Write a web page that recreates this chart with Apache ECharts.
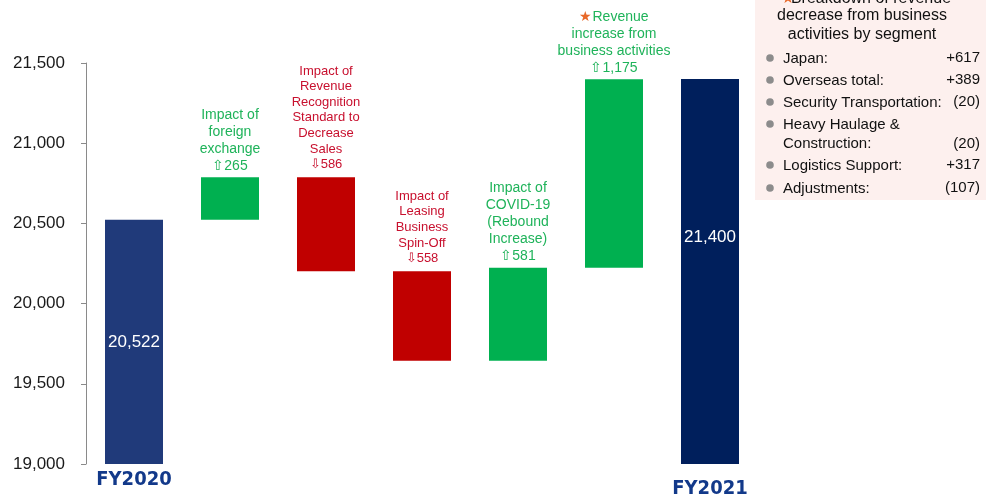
<!DOCTYPE html>
<html>
<head>
<meta charset="utf-8">
<script src="https://cdn.jsdelivr.net/npm/echarts@6/dist/echarts.min.js"></script>
<style>
  html, body { margin: 0; padding: 0; background: #fff; }
  #chart { width: 986px; height: 500px; }
</style>
</head>
<body>
<div id="chart"></div>
<script>
// 数据
var categories = ['FY2020', 'FX', 'RevRec', 'Leasing', 'COVID', 'Business', 'FY2021'];
var startValue = 20522;
var deltas = [265, -586, -558, 581, 1175];
var endValue = 21400;
var yTicks = [19000, 19500, 20000, 20500, 21000, 21500];

var impactLabels = [
  ['Impact of', 'foreign', 'exchange', '⇧265'],
  ['Impact of', 'Revenue', 'Recognition', 'Standard to', 'Decrease', 'Sales', '⇩586'],
  ['Impact of', 'Leasing', 'Business', 'Spin-Off', '⇩558'],
  ['Impact of', 'COVID-19', '(Rebound', 'Increase)', '⇧581'],
  ['{s|★}Revenue', 'increase from', 'business activities', '⇧1,175']
];

var boxTitle = ['Breakdown of revenue', 'decrease from business', 'activities by segment'];
var segNames = ['Japan:', 'Overseas total:', 'Security Transportation:', 'Heavy Haulage &\nConstruction:', 'Logistics Support:', 'Adjustments:'];
var segValues = ['+617', '+389', '(20)', '(20)', '+317', '(107)'];

var GREEN = '#00b050', RED = '#c00000';
var GREEN_TXT = '#1fb35a', RED_TXT = '#c8102e';

// 瀑布图: 透明底座 + 可见柱
var baseData = [0];
var barData = [{
  value: startValue,
  itemStyle: { color: '#203a7a' },
  label: { show: true, position: 'inside', color: '#fff', fontSize: 17 }
}];
var running = startValue;
deltas.forEach(function (d, i) {
  var next = running + d;
  var up = d > 0;
  baseData.push(Math.min(running, next));
  barData.push({
    value: Math.abs(d),
    itemStyle: { color: up ? GREEN : RED },
    label: {
      show: true,
      position: 'top',
      distance: up ? 3 : 5,
      color: up ? GREEN_TXT : RED_TXT,
      fontSize: up ? 14 : 13,
      lineHeight: up ? 17 : 15.6,
      formatter: impactLabels[i].join('\n'),
      rich: { s: { color: '#e8692a', fontSize: 14, lineHeight: 17 } }
    }
  });
  running = next;
});
baseData.push(0);
barData.push({
  value: endValue,
  itemStyle: { color: '#001f5c' },
  label: { show: true, position: 'insideTop', distance: 150, color: '#fff', fontSize: 17 }
});

function fmt(v) {
  return String(v).replace(/\B(?=(\d{3})+(?!\d))/g, ',');
}

// 右上角分类说明
var FONT16 = '16px "Liberation Sans", Arial, sans-serif';
var FONT15 = '15px "Liberation Sans", Arial, sans-serif';
var boxChildren = [{
  type: 'rect',
  shape: { x: 755, y: -20, width: 240, height: 220 },
  style: { fill: '#fdf0ee' }
}, {
  type: 'text',
  style: { text: '★', x: 788, y: -1, fill: '#e8692a', font: '15px "DejaVu Sans", sans-serif', align: 'center', verticalAlign: 'middle' }
}];
boxTitle.forEach(function (t, i) {
  boxChildren.push({
    type: 'text',
    style: {
      text: t,
      x: i === 0 ? 871 : 862, y: (i === 0 ? -1 : -4) + i * 19.5,
      fill: '#111', font: FONT16,
      align: 'center', verticalAlign: 'middle'
    }
  });
});
var rowY = [58, 80, 102, 124, 165, 188];
segNames.forEach(function (n, i) {
  var y = rowY[i];
  var twoLine = n.indexOf('\n') >= 0;
  boxChildren.push({
    type: 'circle',
    shape: { cx: 770, cy: y, r: 3.8 },
    style: { fill: '#8c8c8c' }
  });
  boxChildren.push({
    type: 'text',
    style: {
      text: n, x: 783, y: y - 9, lineHeight: 19.5,
      fill: '#111', font: FONT15,
      align: 'left', verticalAlign: 'top'
    }
  });
  boxChildren.push({
    type: 'text',
    style: {
      text: segValues[i], x: 980, y: twoLine ? y + 19.5 : y,
      fill: '#111', font: FONT15,
      align: 'right', verticalAlign: 'middle'
    }
  });
});

var fyFont = '"Liberation Sans Narrow", "DejaVu Sans Condensed", sans-serif';
var chart = echarts.init(document.getElementById('chart'));
var option = {
  animation: false,
  textStyle: { fontFamily: '"Liberation Sans", Arial, sans-serif' },
  grid: { left: 86, right: 228, top: 63, bottom: 36, containLabel: false, outerBoundsMode: 'none' },
  xAxis: {
    type: 'category',
    data: categories,
    axisLine: { show: false },
    axisTick: { show: false },
    axisLabel: {
      interval: 0,
      margin: 4,
      formatter: function (v) {
        if (v === 'FY2020') return '{a|FY2020}';
        if (v === 'FY2021') return '{b|FY2021}';
        return '';
      },
      rich: {
        a: { fontFamily: fyFont, fontWeight: 'bold', fontSize: 20, color: '#12398a', lineHeight: 24 },
        b: { fontFamily: fyFont, fontWeight: 'bold', fontSize: 20, color: '#12398a', lineHeight: 24, padding: [18, 0, 0, 0] }
      }
    }
  },
  yAxis: {
    type: 'value',
    min: yTicks[0],
    max: yTicks[yTicks.length - 1],
    interval: yTicks[1] - yTicks[0],
    splitLine: { show: false },
    axisLine: { show: true, lineStyle: { color: '#8a8a8a' } },
    axisTick: { show: true, length: 5, lineStyle: { color: '#8a8a8a' } },
    axisLabel: { fontSize: 17, color: '#1a1a1a', margin: 21, formatter: fmt }
  },
  series: [
    {
      type: 'bar',
      stack: 'w',
      barWidth: 58,
      itemStyle: { color: 'transparent' },
      emphasis: { disabled: true },
      data: baseData
    },
    {
      type: 'bar',
      stack: 'w',
      barWidth: 58,
      label: { formatter: function (p) { return fmt(p.value); } },
      data: barData
    }
  ],
  graphic: [{ type: 'group', children: boxChildren }]
};
chart.setOption(option);
</script>
</body>
</html>
